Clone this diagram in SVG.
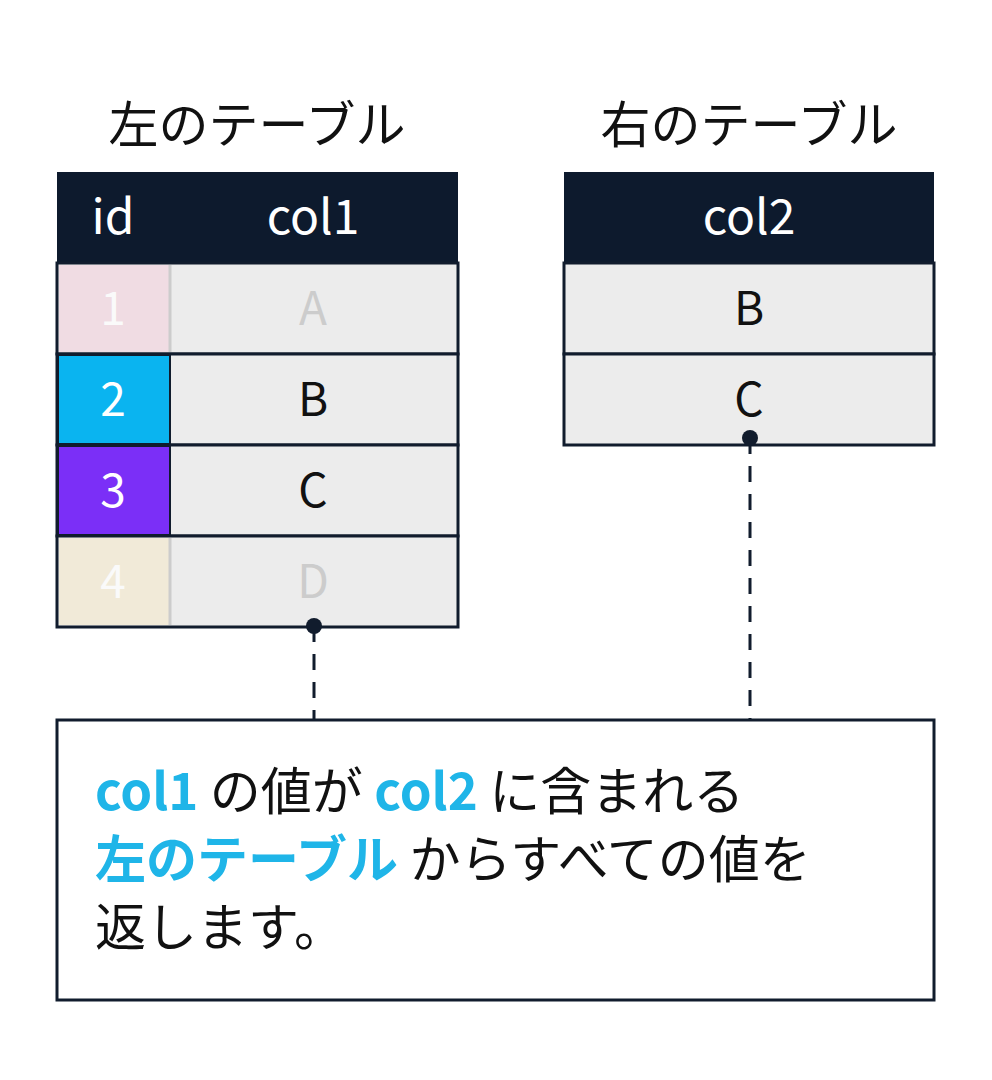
<svg xmlns="http://www.w3.org/2000/svg" width="992" height="1080" viewBox="0 0 992 1080">
<style>
text{font-family:"Noto Sans CJK JP","Noto Sans",sans-serif;text-anchor:middle}
.t{font-size:50px;fill:#111}
.h{font-size:48px;fill:#fff}
.c{font-size:46px}
.cell{fill:#ececec;stroke:#111c2d;stroke-width:3}
.b{font-size:51px;fill:#111;text-anchor:start}
.hl{fill:#1fb5e8;font-weight:bold}
</style>
<rect width="992" height="1080" fill="#fff"/>
<g id="left-table">
<text class="t" x="257" y="143">左のテーブル</text>
<rect x="57" y="172" width="401" height="91" fill="#0d1a2d"/>
<text class="h" x="113" y="234">id</text>
<text class="h" x="313" y="234">col1</text>
<rect class="cell" x="57" y="263" width="401" height="91"/>
<rect x="59" y="265" width="111" height="87" fill="#f0dce3"/>
<line x1="170" y1="265" x2="170" y2="352" stroke="#ccc" stroke-width="3"/>
<text class="c" x="113" y="325" fill="#fafafa">1</text>
<text class="c" x="313" y="325" fill="#ccc">A</text>
<rect class="cell" x="57" y="354" width="401" height="91"/>
<rect x="58" y="355" width="112" height="89" fill="#0ab4f0" stroke="#111c2d" stroke-width="2"/>
<text class="c" x="113" y="416" fill="#fff">2</text>
<text class="c" x="313" y="416" fill="#111">B</text>
<rect class="cell" x="57" y="445" width="401" height="91"/>
<rect x="58" y="446" width="112" height="89" fill="#7b2ff7" stroke="#111c2d" stroke-width="2"/>
<text class="c" x="113" y="507" fill="#fff">3</text>
<text class="c" x="313" y="507" fill="#111">C</text>
<rect class="cell" x="57" y="536" width="401" height="91"/>
<rect x="59" y="538" width="111" height="87" fill="#f1ead8"/>
<line x1="170" y1="538" x2="170" y2="625" stroke="#ccc" stroke-width="3"/>
<text class="c" x="113" y="598" fill="#fafafa">4</text>
<text class="c" x="313" y="598" fill="#ccc">D</text>
</g>
<g id="right-table">
<text class="t" x="749" y="143">右のテーブル</text>
<rect x="564" y="172" width="370" height="91" fill="#0d1a2d"/>
<text class="h" x="749" y="234">col2</text>
<rect class="cell" x="564" y="263" width="370" height="91"/>
<text class="c" x="749" y="325" fill="#111">B</text>
<rect class="cell" x="564" y="354" width="370" height="91"/>
<text class="c" x="749" y="416" fill="#111">C</text>
</g>
<g id="connectors" stroke="#111c2d" stroke-width="3" stroke-dasharray="16,12">
<line x1="314" y1="626" x2="314" y2="720"/>
<line x1="750" y1="438" x2="750" y2="720"/>
<circle cx="314" cy="626" r="8" fill="#111c2d" stroke="none"/>
<circle cx="750" cy="438" r="8" fill="#111c2d" stroke="none"/>
</g>
<g id="note">
<rect x="57" y="720" width="877" height="280" fill="#fff" stroke="#111c2d" stroke-width="3"/>
<text class="b" x="95" y="810"><tspan class="hl">col1</tspan> の値が <tspan class="hl">col2</tspan> に含まれる</text>
<text class="b" x="95" y="878"><tspan class="hl">左のテーブル</tspan> からすべての値を</text>
<text class="b" x="95" y="946">返します。</text>
</g>
</svg>
